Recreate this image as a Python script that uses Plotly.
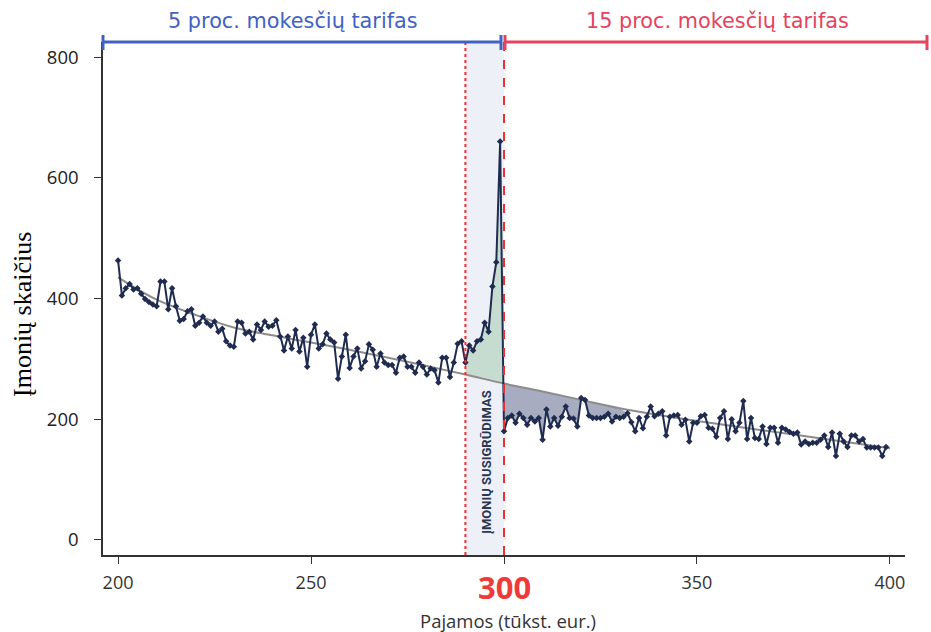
import plotly.graph_objects as go

# ---- data ----
income = list(range(200, 400))
firms = [
    463, 405, 417, 424, 415, 417, 408, 399, 394, 390, 387, 428, 428, 382, 417, 387, 363, 366, 379, 382,
    355, 360, 370, 360, 355, 362, 345, 350, 329, 322, 320,
    362, 360, 342, 345, 332, 357, 348, 362, 353, 355, 364, 337, 314, 337, 317, 348, 312, 335, 287, 340,
    357, 317, 324, 342, 332, 327, 267, 304, 340, 285, 304, 317, 284, 296,
    324, 315, 287, 309, 294, 290, 290, 277, 302, 304, 287, 287, 277, 294, 287, 274, 284, 281, 261, 302,
    302, 270, 294, 325, 329, 294, 322, 314, 329, 332, 360, 345, 420, 460, 660,
    180, 202, 206, 194, 209, 202, 191, 202, 196, 202, 166, 216, 188, 202, 189, 204, 221, 202, 201, 188,
    235, 232, 206, 202, 202, 202, 204, 209, 196, 204, 202, 204,
    210, 195, 180, 202, 185, 204, 221, 205, 209, 213, 173, 204, 206, 207, 191, 199, 163, 194, 194, 205,
    207, 186, 184, 171, 202, 213, 167, 200, 180, 194, 230, 167, 202, 169, 167, 188, 159, 186, 186, 161,
    186, 183, 179, 176, 178, 158, 163, 159, 161, 161, 166, 173, 154, 178, 139, 176, 163, 154, 173, 173,
    163, 167, 153, 153, 153, 153, 139, 154,
]
trend_x = [200, 210, 220, 230, 240, 250, 260, 270, 280, 290, 300, 310, 320, 330, 340, 350, 360, 370, 380, 390, 400]
trend_y = [435, 398, 373, 352, 339, 327, 315, 302, 288, 274, 259, 246, 232, 218, 207, 197, 188, 179, 170, 161, 152]

x_ticks = [200, 250, 300, 350, 400]
x_ticktext = ["200", "250", "", "350", "400"]
y_ticks = [0, 200, 400, 600, 800]

bunch_start, threshold, missing_end = 290, 300, 332
low_label = "5 proc. mokesčių tarifas"
high_label = "15 proc. mokesčių tarifas"
band_label = "ĮMONIŲ SUSIGRŪDIMAS"

NAVY = "#1f2b4f"
BLUE = "#4162c4"
RED = "#e5435e"
LINE_RED = "#ee2f2f"

fig = go.Figure()

# green excess mass (290-300)
gx = [x for x in income if bunch_start <= x < threshold]
gy = [firms[income.index(x)] for x in gx]
tx_b = [x for x in trend_x if bunch_start <= x <= threshold]
ty_b = [trend_y[trend_x.index(x)] for x in tx_b]
fig.add_trace(go.Scatter(
    x=gx + tx_b[::-1], y=gy + ty_b[::-1], fill="toself", mode="none",
    fillcolor="rgba(150,195,160,0.45)", hoverinfo="skip", showlegend=False))

# dark missing mass (300-332)
dx = [x for x in income if threshold <= x <= missing_end]
dy = [firms[income.index(x)] for x in dx]
tx_m = [x for x in trend_x if threshold <= x <= missing_end]
ty_m = [trend_y[trend_x.index(x)] for x in tx_m]
fig.add_trace(go.Scatter(
    x=dx + tx_m[::-1], y=dy + ty_m[::-1], fill="toself", mode="none",
    fillcolor="rgba(80,90,130,0.5)", hoverinfo="skip", showlegend=False))

# trend
fig.add_trace(go.Scatter(
    x=trend_x, y=trend_y, mode="lines", line=dict(color="#8c8c8c", width=2, shape="spline"),
    showlegend=False))

# data
fig.add_trace(go.Scatter(
    x=income, y=firms, mode="lines+markers",
    line=dict(color=NAVY, width=2),
    marker=dict(symbol="diamond", size=5, color=NAVY),
    showlegend=False))

shapes = [
    dict(type="rect", xref="x", yref="paper", x0=bunch_start, x1=threshold, y0=0, y1=1,
         fillcolor="#eef0f8", line=dict(width=0), layer="below"),
    dict(type="line", xref="x", yref="paper", x0=bunch_start, x1=bunch_start, y0=0, y1=1,
         line=dict(color=LINE_RED, width=2, dash="dot")),
    dict(type="line", xref="x", yref="paper", x0=threshold, x1=threshold, y0=0, y1=1,
         line=dict(color=LINE_RED, width=2, dash="dash")),
]
# body margin removed via post_script, so figure pixels == screen pixels
W, H = 931, 632
left_px, right_px, top_px, bot_px = 103, 905, 42, 555
def px2paper_x(px):
    return (px - left_px) / (right_px - left_px)
def px2paper_y(py):
    return (bot_px - py) / (bot_px - top_px)

for (a, b, col) in [(103, 501, BLUE), (505, 927, RED)]:
    shapes.append(dict(type="line", xref="paper", yref="paper", x0=px2paper_x(a), x1=px2paper_x(b),
                       y0=px2paper_y(42), y1=px2paper_y(42), line=dict(color=col, width=3)))
    for p in (a, b):
        shapes.append(dict(type="line", xref="paper", yref="paper", x0=px2paper_x(p), x1=px2paper_x(p),
                           y0=px2paper_y(35), y1=px2paper_y(50), line=dict(color=col, width=3)))

def ann(text, x, y, font, xref="paper", angle=0):
    return dict(text=text, xref=xref, yref="paper", x=x, y=y, showarrow=False,
                xanchor="center", yanchor="middle", textangle=angle, font=font)

annotations = [
    ann(low_label, px2paper_x(293), px2paper_y(21), dict(family="DejaVu Sans", size=20.8, color=BLUE)),
    ann(high_label, px2paper_x(717), px2paper_y(21), dict(family="DejaVu Sans", size=20.8, color=RED)),
    ann("<b>300</b>", threshold, px2paper_y(587), dict(family="Open Sans", size=31, color="#f03a3a"), xref="x"),
    ann("Pajamos (tūkst. eur.)", px2paper_x(508), px2paper_y(620), dict(family="Open Sans", size=18.5, color="#333333")),
    ann("Įmonių skaičius", px2paper_x(22), px2paper_y(315), dict(family="Liberation Serif", size=26, color="#000000"), angle=-90),
    ann("<b>" + band_label + "</b>", 295.3, px2paper_y(462), dict(family="Roboto", size=13, color="#2a3550"), xref="x", angle=-90),
]

fig.update_layout(
    width=W, height=H,
    margin=dict(l=left_px, r=W - right_px, t=top_px, b=H - bot_px, autoexpand=False),
    plot_bgcolor="white", paper_bgcolor="white",
    shapes=shapes, annotations=annotations,
    xaxis=dict(range=[196.1, 403.9], tickvals=x_ticks, ticktext=x_ticktext, showgrid=False,
               zeroline=False, showline=True, linecolor="#333333", linewidth=1.5,
               ticks="outside", ticklen=7, tickcolor="#333333", automargin=False,
               ticklabelstandoff=4,
               tickfont=dict(family="Open Sans", size=18, color="#333333")),
    yaxis=dict(range=[-25, 825], tickvals=y_ticks, showgrid=False, zeroline=False,
               showline=True, linecolor="#333333", linewidth=1.5, automargin=False,
               ticks="outside", ticklen=7, tickcolor="#333333", ticklabelstandoff=12,
               tickfont=dict(family="Open Sans", size=18.5, color="#222222")),
)

fig.write_html("out.html", config={"displayModeBar": False},
               post_script="document.body.style.margin='0';document.body.style.overflow='hidden';")
